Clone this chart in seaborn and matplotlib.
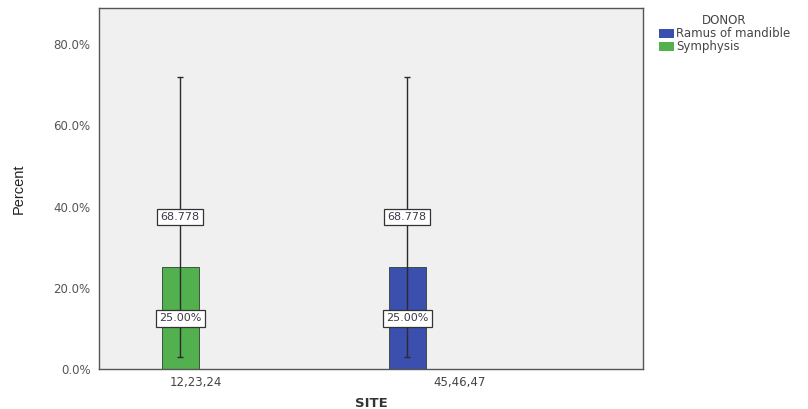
import pandas as pd
import seaborn as sns
import matplotlib.pyplot as plt
from matplotlib.transforms import ScaledTranslation

# data
sites = ["12,23,24", "45,46,47"]
donors = ["Symphysis", "Ramus of mandible"]
percent = [25.0, 25.0]
ci_low = [3.0, 3.0]
ci_high = [72.0, 72.0]
ci_label = ["68.778", "68.778"]
bar_label = ["25.00%", "25.00%"]
ytick_vals = [0, 20, 40, 60, 80]

df = pd.DataFrame({"SITE": sites, "DONOR": donors, "Percent": percent})

sns.set_style("white")
plt.rcParams['font.family'] = ['DejaVu Sans']

fig = plt.figure(figsize=(8.08, 4.09), dpi=100)
ax = fig.add_axes([0.1225, 0.098, 0.6735, 0.882])
ax.set_facecolor("#f0f0f0")

hue_order = ["Ramus of mandible", "Symphysis"]
pal = {"Ramus of mandible": "#3a4fae", "Symphysis": "#52b04e"}
sns.barplot(data=df, x="SITE", y="Percent", hue="DONOR", hue_order=hue_order,
            dodge=False, palette=pal, saturation=1, width=0.163, errorbar=None,
            edgecolor="#2f3f2f", linewidth=0.6, ax=ax)

# error bars and value boxes, placed from the bar patches
bars = [p for p in ax.patches if p.get_height() > 0]
bars = sorted(bars, key=lambda p: p.get_x())
for i, p in enumerate(bars):
    cx = p.get_x() + p.get_width() / 2
    ax.errorbar([cx], [percent[i]],
                yerr=[[percent[i] - ci_low[i]], [ci_high[i] - percent[i]]],
                fmt="none", ecolor="#2b2b2b", elinewidth=1.0, capsize=2.5, capthick=1.0)
    box = dict(boxstyle="square,pad=0.3", fc="white", ec="#333333", lw=0.9)
    ax.text(cx, 37.4, ci_label[i], ha="center", va="center", fontsize=8,
            color="#3a3a4a", bbox=box)
    ax.text(cx, percent[i] / 2, bar_label[i], ha="center", va="center", fontsize=8,
            color="#3a3a4a", bbox=box)

ax.set_xlim(-0.357, 2.04)
ax.set_ylim(0, 88.9)
ax.set_yticks(ytick_vals)
ax.set_yticklabels([f"{v:.1f}%" for v in ytick_vals], fontsize=8.5, color="#555555")
ax.set_xticks([0, 1.16])
ax.set_xticklabels(sites, fontsize=8.5, color="#444444")
ax.tick_params(axis="both", direction="out", length=4, width=0.8, color="#555555", pad=2)
ax.tick_params(axis="x", length=3)
shift = ScaledTranslation(0.16, 0, fig.dpi_scale_trans)
for lab in ax.get_xticklabels():
    lab.set_transform(lab.get_transform() + shift)

for s in ax.spines.values():
    s.set_color("#555555")
    s.set_linewidth(1.0)

ax.set_xlabel("SITE", fontsize=9.5, fontweight="bold", color="#333333", labelpad=6)
ax.set_ylabel("Percent", fontsize=10.5, color="#222222", labelpad=20,
              family=['Liberation Sans Narrow', 'Liberation Sans'])

ax.get_legend().remove()
handles = [plt.Rectangle((0, 0), 1, 1, fc=pal[d], ec="none") for d in hue_order]
leg = fig.legend(handles, hue_order, title="DONOR", loc="upper left",
                 bbox_to_anchor=(0.805, 0.985), frameon=False, fontsize=8.5,
                 title_fontsize=8.5, handlelength=1.3, handleheight=0.8,
                 handletextpad=0.15, labelspacing=0.0, borderpad=0.2)
leg.get_title().set_color("#444444")
for t in leg.get_texts():
    t.set_color("#444444")

fig.savefig("out.png", dpi=100, facecolor="white")
